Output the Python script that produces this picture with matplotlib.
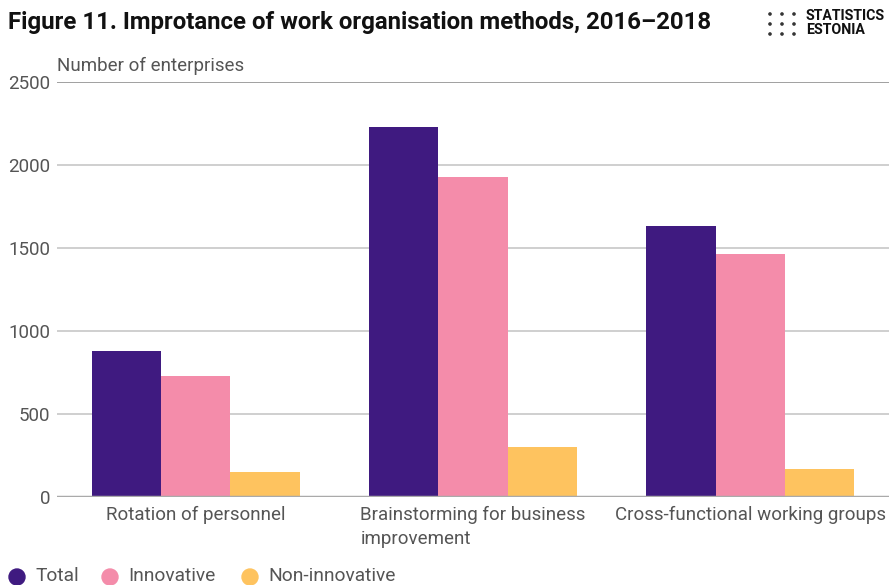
import matplotlib
matplotlib.use("Agg")
import matplotlib.pyplot as plt
import numpy as np

plt.rcParams['font.family'] = ['Roboto', 'DejaVu Sans']

categories = ["Rotation of personnel", "Brainstorming for business\nimprovement",
              "Cross-functional working groups"]
series_names = ["Total", "Innovative", "Non-innovative"]
total = [877, 2227, 1632]
innovative = [727, 1926, 1463]
non_innovative = [148, 297, 168]
colors = ["#3f1a80", "#f48caa", "#fec35f"]
yticks = [0, 500, 1000, 1500, 2000, 2500]

W, H = 891, 585
fig = plt.figure(figsize=(W / 100, H / 100), dpi=100)
ax = fig.add_axes([57 / W, 1 - 496.5 / H, 832 / W, (496.5 - 82) / H])

x = np.arange(len(categories))
bw = 0.25
for i, (vals, c) in enumerate(zip([total, innovative, non_innovative], colors)):
    ax.bar(x + (i - 1) * bw, vals, width=bw, color=c, zorder=3, linewidth=0)

ax.set_xlim(-0.5, len(categories) - 0.5)
ax.set_ylim(0, 2500)
ax.set_yticks(yticks)
ax.set_yticklabels([str(v) for v in yticks])
for v in yticks[1:]:
    ax.axhline(v, color="#cccccc" if v < 2500 else "#999999", lw=1.3, zorder=1)
ax.axhline(0, color="#aaaaaa", lw=2.5, zorder=4)
for s in ax.spines.values():
    s.set_visible(False)
ax.tick_params(axis="y", length=0, pad=5, labelsize=13.5, labelcolor="#555555")
ax.tick_params(axis="x", length=0, pad=7, labelsize=13.5, labelcolor="#555555")
ax.set_xticks(x)
ax.set_xticklabels(categories, multialignment="left", va="top", linespacing=1.4)

fig.text(8 / W, 1 - 23 / H, "Figure 11. Improtance of work organisation methods, 2016–2018",
         fontsize=17.3, fontweight="bold", color="#111111", va="center", ha="left")
fig.text(57 / W, 1 - 66 / H, "Number of enterprises", fontsize=13.5, color="#555555",
         va="center", ha="left")

# logo
dot_x = [770, 782, 794]
dot_y = [14, 24, 34]
for dy in dot_y:
    for dx in dot_x:
        fig.add_artist(matplotlib.patches.Ellipse((dx / W, 1 - dy / H), 2.2 / W, 2.2 / H,
                                                  transform=fig.transFigure, color="#333333"))
fig.text(806 / W, 1 - 16 / H, "STATISTICS", fontsize=10.2, fontweight="bold",
         color="#111111", ha="left", va="center")
fig.text(806 / W, 1 - 30 / H, "ESTONIA", fontsize=10.2, fontweight="bold",
         color="#111111", ha="left", va="center")

# legend
lx = [17, 110, 250]
for name, c, px in zip(series_names, colors, lx):
    fig.add_artist(matplotlib.patches.Ellipse((px / W, 1 - 577 / H), 16 / W, 16 / H,
                                              transform=fig.transFigure, color=c))
    fig.text((px + 18) / W, 1 - 576 / H, name, fontsize=13.8, color="#555555",
             ha="left", va="center")

fig.savefig("out.png", dpi=100)
